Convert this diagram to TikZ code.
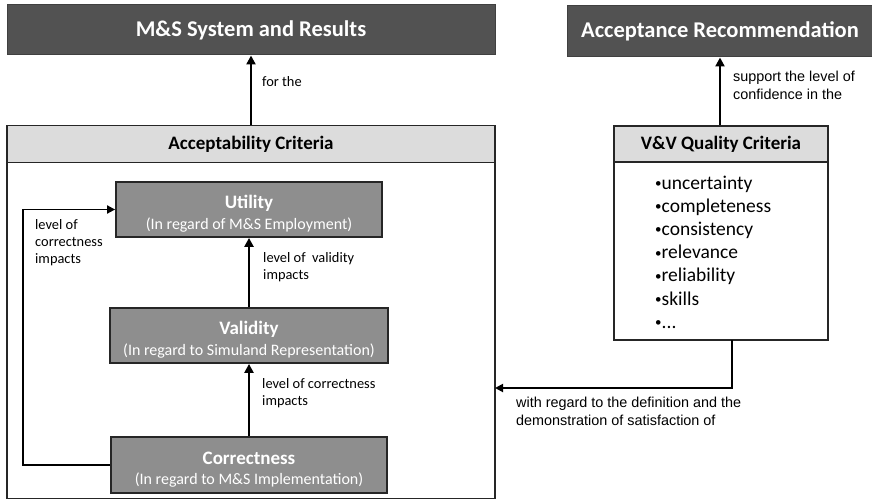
\documentclass[tikz,border=0pt]{standalone}
\usepackage{fontspec}
\setmainfont{Carlito}
\newfontfamily\arialf{Liberation Sans}
\usetikzlibrary{arrows.meta}
\definecolor{darkbox}{HTML}{525252}
\definecolor{midbox}{HTML}{8E8E8E}
\definecolor{lightbox}{HTML}{DCDCDC}
\tikzset{
  x=1pt,y=-1pt,
  topbox/.style={draw=black!75, line width=1pt, fill=darkbox, text=white, font=\fontsize{22.5}{26}\selectfont\bfseries, inner sep=0pt},
  critbox/.style={draw=black!85, line width=1.8pt, fill=midbox, text=white, align=center, inner sep=0pt, font=\fontsize{16}{20.5}\selectfont},
  headbox/.style={draw=black!85, line width=1.8pt, fill=lightbox, font=\fontsize{19}{22}\selectfont\bfseries, inner sep=0pt},
  bodybox/.style={draw=black!85, line width=1.8pt, fill=white, inner sep=0pt},
  conn/.style={line width=2.6pt, -{Triangle[length=9pt,width=9pt]}},
  thin conn/.style={line width=1.8pt, -{Triangle[length=8pt,width=8pt]}},
  lbl/.style={anchor=north west, align=left, inner sep=0pt, font=\fontsize{14.4}{17}\selectfont},
  albl/.style={anchor=north west, align=left, inner sep=0pt, font=\arialf\fontsize{14.4}{17.6}\selectfont},
}
\newcommand{\crittitle}[1]{\rule{0pt}{22pt}{\fontsize{19}{20}\selectfont\bfseries #1}}
\newcommand{\smallbul}{{\fontsize{13}{0}\selectfont\raisebox{1.6pt}{•}}}
\begin{document}
\begin{tikzpicture}
\useasboundingbox (0,0) rectangle (872,500);
\fill[white] (0,0) rectangle (872,500);
% top boxes
\node[topbox, minimum width=488pt, minimum height=50pt] (ms) at (251,30) {M\&S System and Results};
\node[topbox, minimum width=306pt, minimum height=51pt] (ar) at (720,31.5) {Acceptance Recommendation};
% acceptability criteria
\node[bodybox, minimum width=488pt, minimum height=336pt] (acb) at (251,330.5) {};
\node[headbox, minimum width=488pt, minimum height=37pt] (ach) at (251,144) {Acceptability Criteria};
% criteria boxes
\node[critbox, minimum width=266pt, minimum height=55pt] (util) at (249,209.5)
  {\crittitle{Utility}\\(In regard of M\&S Employment)};
\node[critbox, minimum width=278pt, minimum height=55pt] (val) at (249,335.5)
  {\crittitle{Validity}\\(In regard to Simuland Representation)};
\node[critbox, minimum width=276pt, minimum height=56pt] (corr) at (249,465)
  {\crittitle{Correctness}\\(In regard to M\&S Implementation)};
% V&V quality criteria
\node[bodybox, minimum width=214pt, minimum height=178pt] (vvb) at (721,251) {};
\node[headbox, minimum width=214pt, minimum height=36pt] (vvh) at (721,144) {V\&V Quality Criteria};
\node[anchor=north west, align=left, inner sep=0pt, font=\fontsize{19.5}{23.2}\selectfont] (list) at (655,175.5)
  {\smallbul uncertainty\\ \smallbul completeness\\ \smallbul consistency\\ \smallbul relevance\\ \smallbul reliability\\ \smallbul skills\\ \smallbul ...};
% connectors
\draw[conn] (ach.north) -- (ms.south);
\draw[conn] (vvh.north -| ar.south) -- (ar.south);
\draw[conn] (val.north) -- (util.south);
\draw[conn] (corr.north) -- (val.south);
\coordinate (loopx) at (23,0);
\draw[thin conn] (corr.west) -| (loopx |- util.west) -- (util.west);
\coordinate (vvout) at (732,340);
\coordinate (acin) at (495,388);
\draw[thin conn] (vvout) |- (acin);
% labels
\node[lbl] (l1) at (262,76) {for the};
\node[lbl] (l2) at (263,252.5) {level of\ \ validity\\impacts};
\node[lbl] (l3) at (262,378) {level of correctness\\impacts};
\node[lbl] (l4) at (35,219) {level of\\correctness\\impacts};
\node[albl] (l5) at (733,71) {support the level of\\confidence in the};
\node[albl] (l6) at (516,397) {with regard to the definition and the\\demonstration of satisfaction of};
\end{tikzpicture}
\end{document}
